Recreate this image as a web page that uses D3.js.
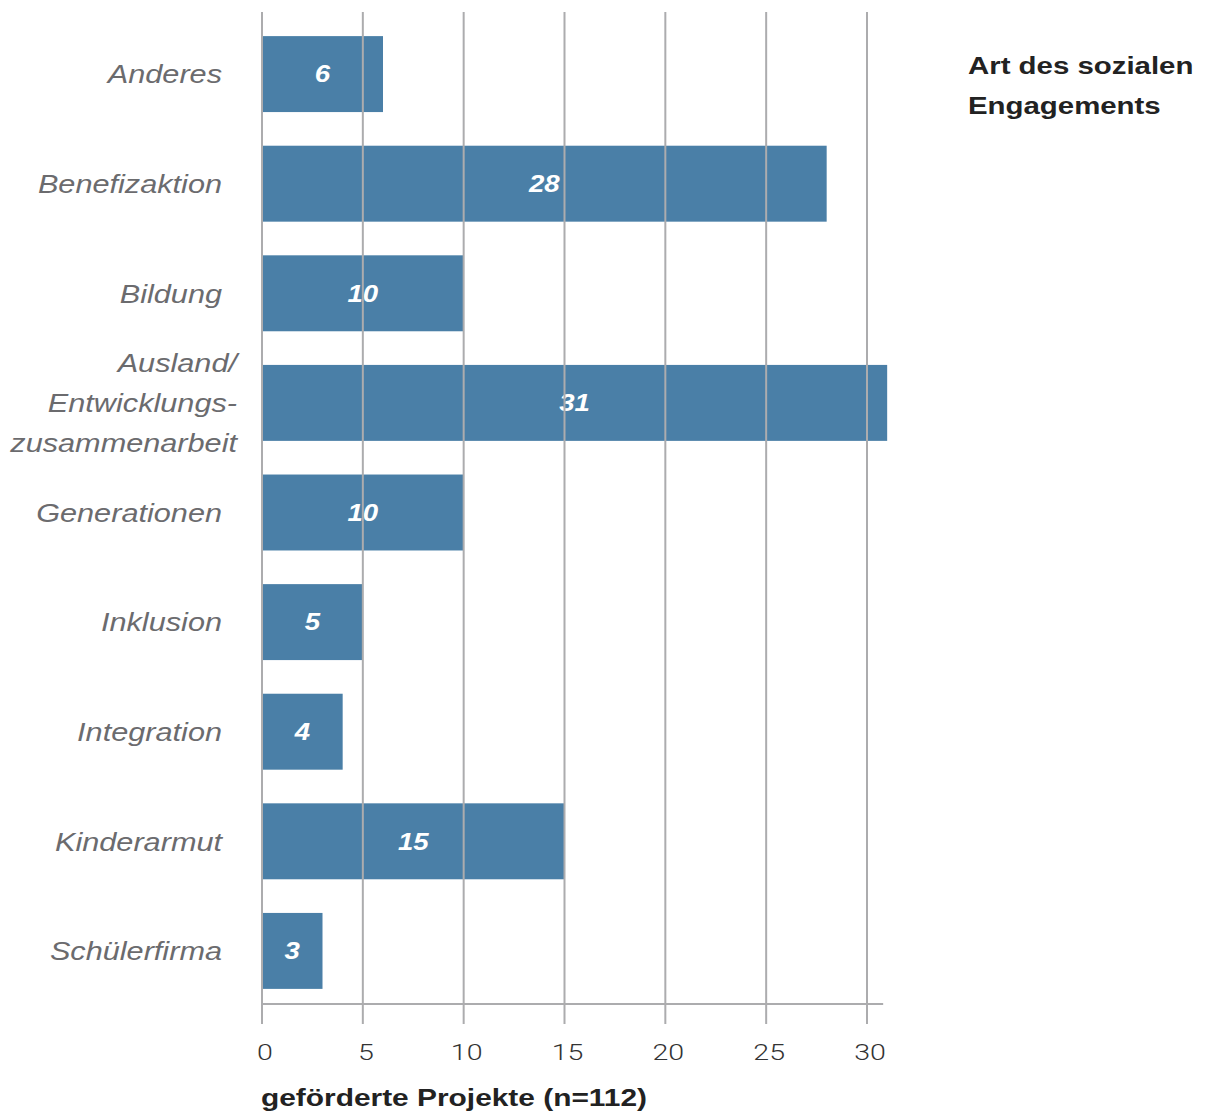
<!DOCTYPE html>
<html lang="de">
<head>
<meta charset="utf-8">
<script src="https://cdn.jsdelivr.net/npm/d3@7"></script>
<style>
  html, body { margin: 0; padding: 0; background: #fff; }
  svg { display: block; font-family: "Liberation Sans", Arial, Helvetica, sans-serif; }
</style>
</head>
<body>
<svg id="chart" width="1205" height="1112"></svg>
<script>
// Geförderte Projekte nach Art des sozialen Engagements
const categories = [
  "Anderes",
  "Benefizaktion",
  "Bildung",
  "Ausland/\nEntwicklungs-\nzusammenarbeit",
  "Generationen",
  "Inklusion",
  "Integration",
  "Kinderarmut",
  "Schülerfirma"
];
const values = [6, 28, 10, 31, 10, 5, 4, 15, 3];
const xTicks = [0, 5, 10, 15, 20, 25, 30];
const xTitle = "geförderte Projekte (n=112)";
const legendTitle = ["Art des sozialen", "Engagements"];

const svg = d3.select("#chart");
const barColor = "#4a7fa7";
const gridColor = "#acacae";
const stretch = "scale(1.22,1)";   // wide grotesque look for the titles

const x = d3.scaleLinear().domain([0, 30]).range([262, 867]);
const y = d3.scaleBand()
  .domain(categories)
  .range([20, 1005])
  .paddingInner(0.307)
  .paddingOuter(0.147);

const axisY = 1004;

// bars
svg.append("g")
  .selectAll("rect")
  .data(values)
  .join("rect")
  .attr("x", x(0))
  .attr("y", (d, i) => y(categories[i]))
  .attr("width", d => x(d) - x(0))
  .attr("height", y.bandwidth())
  .attr("fill", barColor);

// value labels inside the bars
svg.append("g")
  .selectAll("g")
  .data(values)
  .join("g")
  .attr("transform", (d, i) =>
    `translate(${(x(0) + x(d)) / 2},${y(categories[i]) + y.bandwidth() / 2}) scale(1.2,1)`)
  .append("text")
  .attr("dy", "0.36em")
  .attr("text-anchor", "middle")
  .attr("fill", "#fff")
  .attr("font-style", "italic")
  .attr("font-weight", "bold")
  .attr("font-size", 23)
  .text(d => d);

// vertical grid lines, drawn over the bars
svg.append("g")
  .selectAll("line")
  .data(xTicks)
  .join("line")
  .attr("x1", d => x(d))
  .attr("x2", d => x(d))
  .attr("y1", 12)
  .attr("y2", 1024)
  .attr("stroke", gridColor)
  .attr("stroke-width", 2);

// baseline of the value axis
svg.append("line")
  .attr("x1", x(0))
  .attr("x2", x(d3.max(values)) - 4)
  .attr("y1", axisY)
  .attr("y2", axisY)
  .attr("stroke", gridColor)
  .attr("stroke-width", 2);

// tick labels
svg.append("g")
  .selectAll("g")
  .data(xTicks)
  .join("g")
  .attr("transform", d => `translate(${x(d) + 3},1060) scale(1.3,1)`)
  .append("text")
  .attr("text-anchor", "middle")
  .attr("fill", "#333")
  .attr("font-family", "Roboto, 'Liberation Sans', sans-serif")
  .attr("font-weight", 300)
  .attr("font-size", 22)
  .text(d => d);

// axis title
svg.append("g")
  .attr("transform", `translate(261,1106) ${stretch}`)
  .append("text")
  .attr("fill", "#222")
  .attr("font-weight", "bold")
  .attr("font-size", 24.5)
  .text(xTitle);

// category labels
const catG = svg.append("g");
categories.forEach(c => {
  const lines = c.split("\n");
  const cy = y(c) + y.bandwidth() / 2;
  const lh = 40;
  const ax = lines.length > 1 ? 237 : 222;
  const t = catG.append("g")
    .attr("transform", `translate(${ax},${cy}) scale(1.18,1)`)
    .append("text")
    .attr("text-anchor", "end")
    .attr("fill", "#6b6b6e")
    .attr("font-style", "italic")
    .attr("font-size", 26);
  lines.forEach((ln, k) => {
    t.append("tspan")
      .attr("x", 0)
      .attr("y", (k - (lines.length - 1) / 2) * lh)
      .attr("dy", "0.36em")
      .text(ln);
  });
});

// legend title
const lt = svg.append("g")
  .attr("transform", "translate(968,0) scale(1.2,1)")
  .append("text")
  .attr("fill", "#222")
  .attr("font-weight", "bold")
  .attr("font-size", 24.5);
legendTitle.forEach((ln, k) => {
  lt.append("tspan").attr("x", 0).attr("y", 74 + k * 40).text(ln);
});
</script>
</body>
</html>
